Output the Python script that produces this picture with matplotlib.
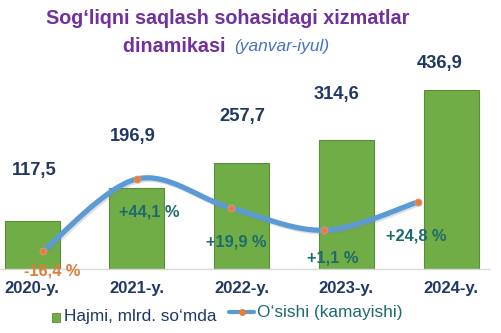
import matplotlib
matplotlib.use("Agg")
import matplotlib.pyplot as plt
import matplotlib.patheffects as pe
from matplotlib.lines import Line2D
from matplotlib.patches import Rectangle
import numpy as np

plt.rcParams['font.family'] = ['Liberation Sans', 'DejaVu Sans']

years = ['2020-y.', '2021-y.', '2022-y.', '2023-y.', '2024-y.']
hajmi = [117.5, 196.9, 257.7, 314.6, 436.9]
osish = [-16.4, 44.1, 19.9, 1.1, 24.8]

navy = '#1F3864'
teal = '#1D6B6B'
green = '#70AD47'
blue_line = '#5B9BD5'
orange = '#ED7D31'
purple = '#7030A0'

W, H = 501, 333
fig = plt.figure(figsize=(W / 100, H / 100), dpi=100)


def fx(px):
    return px / W


def fy(py):
    return 1 - py / H


# axes box in pixels: x 0..490, y 60..269 (from top)
box = [0, fy(269), 490 / W, 209 / H]
ax = fig.add_axes(box)
ax2 = fig.add_axes(box)
ax2.patch.set_alpha(0)

x = np.arange(len(years))
ax.bar(x, hajmi, width=0.525, color=green, edgecolor='#5B8C3A', linewidth=0.8)
ax.set_xlim(-0.3055, 4.372)
ax.set_ylim(0, 510)

# value labels above the bars (offsets in pixels)
lab_dx = [2, -4, 1, -10, -11]
lab_dy = [50, 52, 47, 46, 26]
for i, v in enumerate(hajmi):
    ax.annotate(f"{v:.1f}".replace('.', ','), (x[i], v),
                xytext=(lab_dx[i] * 0.72, lab_dy[i] * 0.72), textcoords='offset points',
                ha='center', va='center', fontsize=13.2, fontweight='bold', color=navy)

ax.set_xticks(x)
ax.set_xticklabels(years, fontsize=12, fontweight='bold', color=navy)
ax.tick_params(axis='x', length=0, pad=9)
ax.set_yticks([])
for s in ['top', 'left', 'right']:
    ax.spines[s].set_visible(False)
ax.spines['bottom'].set_color('#D9D9D9')
ax.spines['bottom'].set_linewidth(1.0)


# smooth curve through the growth points (Catmull-Rom)
def smooth(xs, ys, n=30):
    px = np.concatenate([[xs[0]], xs, [xs[-1]]])
    py = np.concatenate([[ys[0]], ys, [ys[-1]]])
    outx, outy = [], []
    t = np.linspace(0, 1, n)
    for k in range(1, len(px) - 2):
        for arr, out in ((px, outx), (py, outy)):
            p0, p1, p2, p3 = arr[k - 1], arr[k], arr[k + 1], arr[k + 2]
            out.extend(0.5 * ((2 * p1) + (-p0 + p2) * t +
                              (2 * p0 - 5 * p1 + 4 * p2 - p3) * t ** 2 +
                              (-p0 + 3 * p1 - 3 * p2 + p3) * t ** 3))
    return np.array(outx), np.array(outy)


xl = np.arange(len(osish), dtype=float)
sx, sy = smooth(xl, np.array(osish))
ax2.plot(sx, sy, color=blue_line, linewidth=3.8, solid_capstyle='round',
         path_effects=[pe.SimpleLineShadow(offset=(1.2, -1.2), shadow_color='gray', alpha=0.25),
                       pe.Normal()])
ax2.plot(xl, osish, 'o', color=orange, markersize=5, markeredgecolor='#C9A08A', markeredgewidth=0.6)
ax2.set_xlim(-0.4587, 4.768)
ax2.set_ylim(-31.5, 144.1)
ax2.axis('off')

g_dx = [9, 12, 6, 8, -2]
g_dy = [-20, -33, -34, -28, -34]
for i, v in enumerate(osish):
    txt = f"{v:+.1f}".replace('.', ',') + " %"
    ax2.annotate(txt, (xl[i], v), xytext=(g_dx[i] * 0.72, g_dy[i] * 0.72),
                 textcoords='offset points', ha='center', va='center',
                 fontsize=11.8, fontweight='bold', color='#E07B39' if v < 0 else teal)

# title
fig.text(fx(228), fy(19), "Sog\u2018liqni saqlash sohasidagi xizmatlar",
         ha='center', va='center', fontsize=14.2, fontweight='bold', color=purple)
fig.text(fx(231), fy(46), "dinamikasi ", ha='right', va='center',
         fontsize=14.2, fontweight='bold', color=purple)
fig.text(fx(234), fy(46), "(yanvar-iyul)", ha='left', va='center',
         fontsize=12.5, fontstyle='italic', color='#4472C4')

# legend
fig.add_artist(Rectangle((fx(52), fy(322)), 8 / W, 9 / H, transform=fig.transFigure,
                         facecolor=green, edgecolor='#5B8C3A', linewidth=0.6))
fig.text(fx(64), fy(317), "Hajmi, mlrd. so\u2018mda", ha='left', va='center',
         fontsize=12.4, color=navy)
fig.add_artist(Line2D([fx(229), fx(254)], [fy(312), fy(312)], transform=fig.transFigure,
                      color=blue_line, linewidth=3, solid_capstyle='round'))
fig.add_artist(Line2D([fx(241.5)], [fy(312)], transform=fig.transFigure, marker='o',
                      color=orange, markersize=4, linestyle='none'))
fig.text(fx(257), fy(312), "O\u2018sishi (kamayishi)", ha='left', va='center',
         fontsize=12.4, color=teal)

fig.savefig('out.png', dpi=100)
